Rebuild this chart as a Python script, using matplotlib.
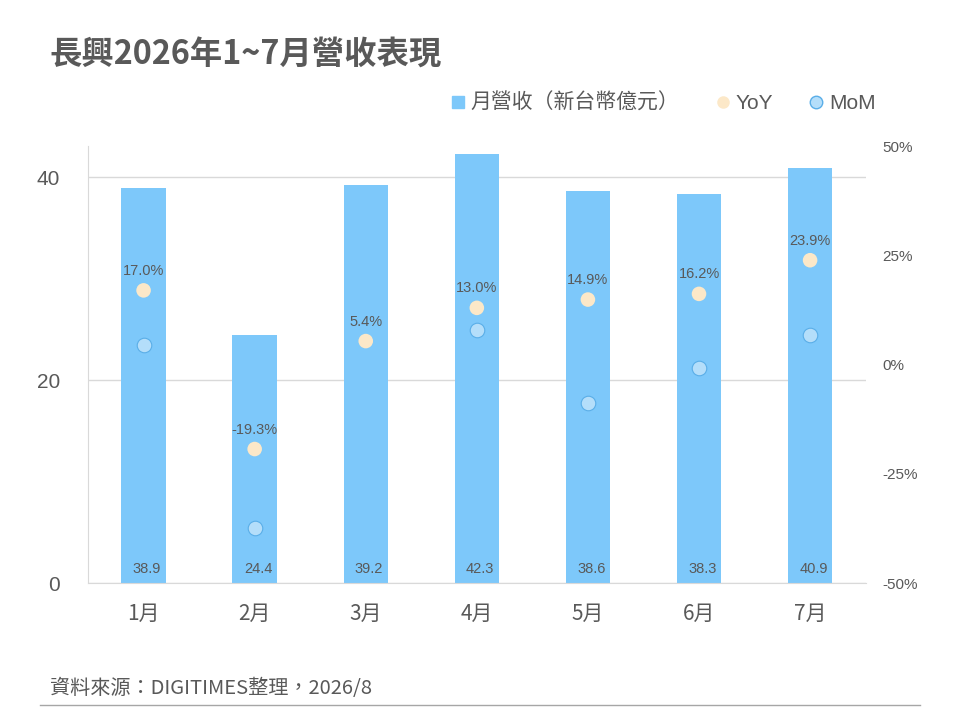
import matplotlib
matplotlib.use("Agg")
from matplotlib import pyplot as plt
from matplotlib.lines import Line2D

plt.rcParams['font.family'] = ['Noto Sans CJK TC', 'DejaVu Sans']
LAT = ['Liberation Sans', 'Noto Sans CJK TC']

months = ["1月", "2月", "3月", "4月", "5月", "6月", "7月"]
revenue = [38.9, 24.4, 39.2, 42.3, 38.6, 38.3, 40.9]
yoy = [17.0, -19.3, 5.4, 13.0, 14.9, 16.2, 23.9]
mom = [4.6, -37.3, 60.7, 7.9, -8.7, -0.8, 6.8]

BAR = "#7DC8FA"
YOY_C = "#FCE8C8"
MOM_C = "#B4DEFA"
MOM_E = "#5AAEE8"
TXT = "#595959"
GRID = "#D9D9D9"

fig = plt.figure(figsize=(9.6, 7.2), dpi=100)
ax = fig.add_axes([0.0917, 0.190, 0.810, 0.607])
ax2 = ax.twinx()

x = list(range(len(months)))
ax.bar(x, revenue, width=0.4, color=BAR, zorder=2)
for xi, v in zip(x, revenue):
    ax.text(xi + 0.03, 1.4, f"{v:.1f}", ha="center", va="center",
            fontsize=10.5, color=TXT, family=LAT, zorder=5)

ax.set_xlim(-0.5, 6.5)
ax.set_ylim(0, 43.05)
ax.set_yticks([0, 20, 40])
ax.set_xticks(x)
ax.set_xticklabels(months, fontsize=15)
ax.set_yticklabels(["0", "20", "40"], family=LAT, fontsize=15)
ax.yaxis.grid(True, color=GRID, linewidth=1, zorder=0)
ax.set_axisbelow(True)
ax.tick_params(axis="y", length=0, labelcolor=TXT, pad=20)
ax.tick_params(axis="x", length=0, labelcolor=TXT, pad=14)
for s in ["top", "right"]:
    ax.spines[s].set_visible(False)
    ax2.spines[s].set_visible(False)
for s in ["left", "bottom"]:
    ax.spines[s].set_color(GRID)
    ax2.spines[s].set_visible(False)

ax2.scatter(x, yoy, s=110, color=YOY_C, edgecolors="none", zorder=4)
ax2.scatter(x, mom, s=110, color=MOM_C, edgecolors=MOM_E, linewidths=0.8, zorder=4)
for xi, v in zip(x, yoy):
    ax2.annotate(f"{v:.1f}%", (xi, v), xytext=(0, 14), textcoords="offset points",
                 ha="center", va="center", fontsize=10.5, color=TXT, family=LAT,
                 zorder=5)
ax2.set_ylim(-50, 50)
ax2.set_yticks([-50, -25, 0, 25, 50])
ax2.set_yticklabels([f"{t}%" for t in [-50, -25, 0, 25, 50]], family=LAT, fontsize=11)
ax2.tick_params(axis="y", length=0, labelcolor=TXT, pad=12)

handles = [
    Line2D([], [], marker="s", linestyle="none", markersize=8, color=BAR),
    Line2D([], [], marker="o", linestyle="none", markersize=9, markerfacecolor=YOY_C,
           markeredgecolor="none"),
    Line2D([], [], marker="o", linestyle="none", markersize=9, markerfacecolor=MOM_C,
           markeredgecolor=MOM_E),
]
leg = fig.legend(handles, ["月營收（新台幣億元）", "YoY", "MoM"], ncol=3, loc="center",
                 bbox_to_anchor=(0.689, 0.857), frameon=False,
                 prop={"family": LAT, "size": 15},
                 handletextpad=0.1, columnspacing=1.6, handlelength=1.0)
for t in leg.get_texts():
    t.set_color(TXT)

fig.text(0.052, 0.923, "長興2026年1~7月營收表現", fontsize=23.3, fontweight="bold",
         color=TXT, ha="left", va="center")
fig.text(0.052, 0.044, "資料來源：DIGITIMES整理，2026/8", fontsize=14.5,
         color=TXT, ha="left", va="center")
fig.add_artist(Line2D([0.042, 0.958], [0.021, 0.021], color="#A6A6A6", linewidth=1))

fig.savefig("out.png", dpi=100)
